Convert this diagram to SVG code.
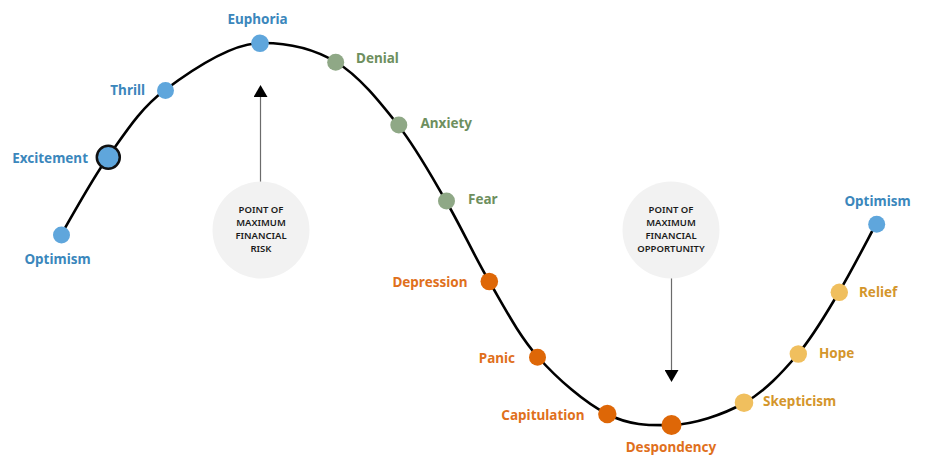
<svg xmlns="http://www.w3.org/2000/svg" width="931" height="462" viewBox="0 0 931 462">
<style>
.lbl{font-family:"Noto Sans","Open Sans",sans-serif;font-weight:700;font-size:13.5px}
.b{fill:#3B87BC}.g{fill:#6E8F5E}.o{fill:#E0701C}.y{fill:#D4962C}
.db{fill:#5FA6DC}.dg{fill:#8FA886}.do{fill:#DE6707}.dy{fill:#F0BF5E}
.bub{fill:#F2F2F2}
.bt{font-family:"Noto Sans","Open Sans",sans-serif;font-weight:600;font-size:9.5px;fill:#1a1a1a;text-anchor:middle}
.ptr{stroke:#6b6b6b;stroke-width:1.2;fill:none}
</style>
<defs>
<marker id="ah" markerWidth="12" markerHeight="14" refX="0" refY="7" orient="auto" markerUnits="userSpaceOnUse" viewBox="0 0 12 14">
<path d="M0,0 L12,7 L0,14 Z" fill="#000"/>
</marker>
</defs>
<g id="connectors">
<path id="curve" fill="none" stroke="#000" stroke-width="2.6" d="M61,235 C68.8,222 90.7,181.2 108,157 C125.3,132.8 139.7,109 165,90 C190.3,71 231.5,43.5 260,43 C288.5,42.5 313,48.3 336,62 C359,75.7 379.7,101.8 398,125 C416.3,148.2 430.8,175 446,201 C461.2,227 473.7,255 489,281 C504.3,307 518.3,334.8 538,357 C557.7,379.2 584.8,402.7 607,414 C629.2,425.3 648.2,425.5 671,425 C693.8,424.5 722.8,414.8 744,403 C765.2,391.2 782.2,372.5 798,354 C813.8,335.5 826,313.7 839,292 C852,270.3 869.8,235.3 876,224"/>
<line class="ptr" x1="260.5" y1="182" x2="260.5" y2="97" marker-end="url(#ah)"/>
<line class="ptr" x1="671.5" y1="278" x2="671.5" y2="370" marker-end="url(#ah)"/>
</g>
<g id="risk">
<circle class="bub" cx="261" cy="230" r="48.5"/>
<text class="bt" x="261" y="213">POINT OF</text>
<text class="bt" x="261" y="226">MAXIMUM</text>
<text class="bt" x="261" y="239">FINANCIAL</text>
<text class="bt" x="261" y="252">RISK</text>
</g>
<g id="opportunity">
<circle class="bub" cx="671" cy="230" r="48.5"/>
<text class="bt" x="671" y="213">POINT OF</text>
<text class="bt" x="671" y="226">MAXIMUM</text>
<text class="bt" x="671" y="239">FINANCIAL</text>
<text class="bt" x="671" y="252">OPPORTUNITY</text>
</g>
<g id="optimism1"><circle class="db" cx="61.5" cy="235" r="8.5"/><text class="lbl b" x="57.5" y="264" text-anchor="middle">Optimism</text></g>
<g id="excitement"><circle class="db" cx="108.3" cy="157.3" r="11.5" stroke="#111" stroke-width="2.5"/><text class="lbl b" x="88" y="163" text-anchor="end">Excitement</text></g>
<g id="thrill"><circle class="db" cx="165.5" cy="90.5" r="8.5"/><text class="lbl b" x="145" y="95" text-anchor="end">Thrill</text></g>
<g id="euphoria"><circle class="db" cx="260" cy="43.3" r="8.8"/><text class="lbl b" x="257.5" y="24" text-anchor="middle">Euphoria</text></g>
<g id="denial"><circle class="dg" cx="335.7" cy="62.3" r="8.5"/><text class="lbl g" x="356" y="63">Denial</text></g>
<g id="anxiety"><circle class="dg" cx="398.8" cy="125" r="8.5"/><text class="lbl g" x="420.5" y="128">Anxiety</text></g>
<g id="fear"><circle class="dg" cx="446.5" cy="201" r="8.5"/><text class="lbl g" x="468" y="204">Fear</text></g>
<g id="depression"><circle class="do" cx="489.3" cy="281.5" r="8.8"/><text class="lbl o" x="467.5" y="287" text-anchor="end">Depression</text></g>
<g id="panic"><circle class="do" cx="537.5" cy="357.3" r="8.5"/><text class="lbl o" x="515" y="363" text-anchor="end">Panic</text></g>
<g id="capitulation"><circle class="do" cx="607.3" cy="414" r="9.2"/><text class="lbl o" x="584.5" y="420" text-anchor="end">Capitulation</text></g>
<g id="despondency"><circle class="do" cx="671.5" cy="425" r="10"/><text class="lbl o" x="671" y="452" text-anchor="middle">Despondency</text></g>
<g id="skepticism"><circle class="dy" cx="744" cy="402.7" r="9.3"/><text class="lbl y" x="763" y="406">Skepticism</text></g>
<g id="hope"><circle class="dy" cx="798.3" cy="354" r="8.7"/><text class="lbl y" x="819" y="358">Hope</text></g>
<g id="relief"><circle class="dy" cx="839.3" cy="292.3" r="8.7"/><text class="lbl y" x="859" y="297">Relief</text></g>
<g id="optimism2"><circle class="db" cx="876.7" cy="224.3" r="8.5"/><text class="lbl b" x="877.5" y="206" text-anchor="middle">Optimism</text></g>
</svg>
